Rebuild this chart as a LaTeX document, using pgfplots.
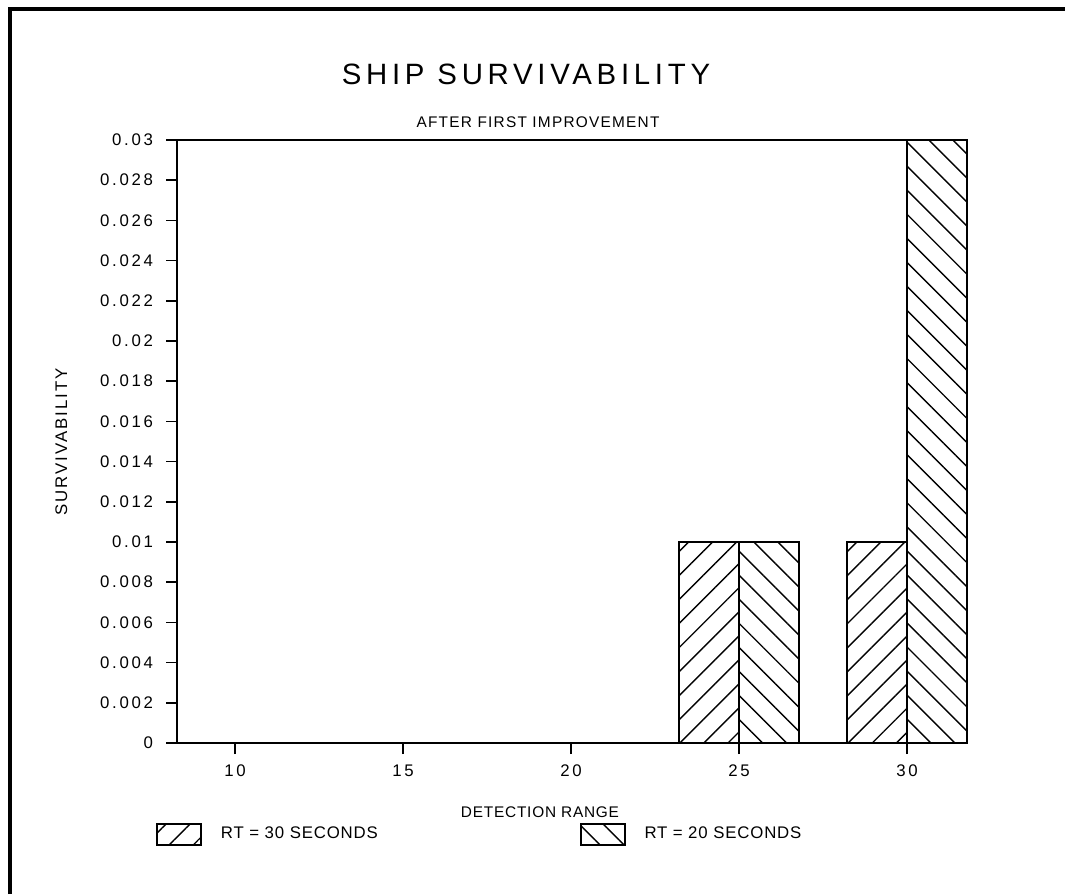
\documentclass[border=0pt]{standalone}
\usepackage{pgfplots}
\pgfplotsset{compat=1.18}
\usetikzlibrary{patterns.meta}
\usepackage{fontspec}
\setmainfont{Liberation Sans}
\newfontfamily\titlefont[LetterSpace=16]{Liberation Sans}
\newfontfamily\subfont[LetterSpace=8]{Liberation Sans}
\newfontfamily\tickfont[LetterSpace=16]{Liberation Sans}
\newfontfamily\labfont[LetterSpace=5]{Liberation Sans}
\newfontfamily\ylabfont[LetterSpace=12]{Liberation Sans}
\begin{document}
\begin{tikzpicture}
\useasboundingbox (0,0) rectangle (532.5pt,447pt);
\draw[line width=2pt] (4.75pt,0) -- (4.75pt,442.5pt) -- (532.5pt,442.5pt);
\begin{axis}[
  at={(88.5pt,75.5pt)}, anchor=south west,
  scale only axis, width=395pt, height=301.5pt,
  xmin=-0.345, xmax=4.357, ymin=0, ymax=0.03,
  axis line style={line width=1pt},
  xtick={0,1,2,3,4}, xticklabels={10,15,20,25,30},
  ytick={0,0.002,0.004,0.006,0.008,0.01,0.012,0.014,0.016,0.018,0.02,0.022,0.024,0.026,0.028,0.03},
  yticklabels={0,0.002,0.004,0.006,0.008,0.01,0.012,0.014,0.016,0.018,0.02,0.022,0.024,0.026,0.028,0.03},
  scaled y ticks=false,
  tick align=outside, tick pos=left,
  major tick length=5.5pt,
  tick style={line width=0.8pt, black},
  tick label style={font=\tickfont\fontsize{8.4}{10}\selectfont},
  yticklabel style={xshift=-3pt},
  xticklabel style={yshift=-2pt},
  legend columns=2,
  legend style={at={(-0.0266,-0.1517)}, anchor=west, draw=none, inner sep=0pt,
    font=\labfont\fontsize{8.4}{10}\selectfont,
    /tikz/every even column/.append style={column sep=99pt}},
  legend image code/.code={\draw[#1,line width=0.8pt] (0pt,-5.25pt) rectangle (22pt,5.25pt); \path (29.5pt,0pt);},
]
\addplot[ybar, bar width=0.357, bar shift=-0.1785, draw=black, line width=0.8pt,
  pattern={Lines[angle=45,distance=8.5pt,line width=0.7pt]}]
  coordinates {(0,0) (1,0) (2,0) (3,0.01) (4,0.01)};
\addlegendentry{RT = 30 SECONDS}
\addplot[ybar, bar width=0.357, bar shift=0.1785, draw=black, line width=0.8pt,
  pattern={Lines[angle=-45,distance=8.5pt,line width=0.7pt]}]
  coordinates {(0,0) (1,0) (2,0) (3,0.01) (4,0.03)};
\addlegendentry{RT = 20 SECONDS}
\end{axis}
\node[anchor=base] at (263pt,404.5pt) {\titlefont\fontsize{14.7}{17}\selectfont SHIP SURVIVABILITY};
\node[anchor=base] at (269pt,383pt) {\subfont\fontsize{7.7}{9}\selectfont AFTER FIRST IMPROVEMENT};
\node[anchor=base] at (270pt,38pt) {\labfont\fontsize{7.7}{9}\selectfont DETECTION RANGE};
\node[anchor=base,rotate=90] at (33.5pt,226pt) {\ylabfont\fontsize{8.4}{10}\selectfont SURVIVABILITY};
\end{tikzpicture}
\end{document}
